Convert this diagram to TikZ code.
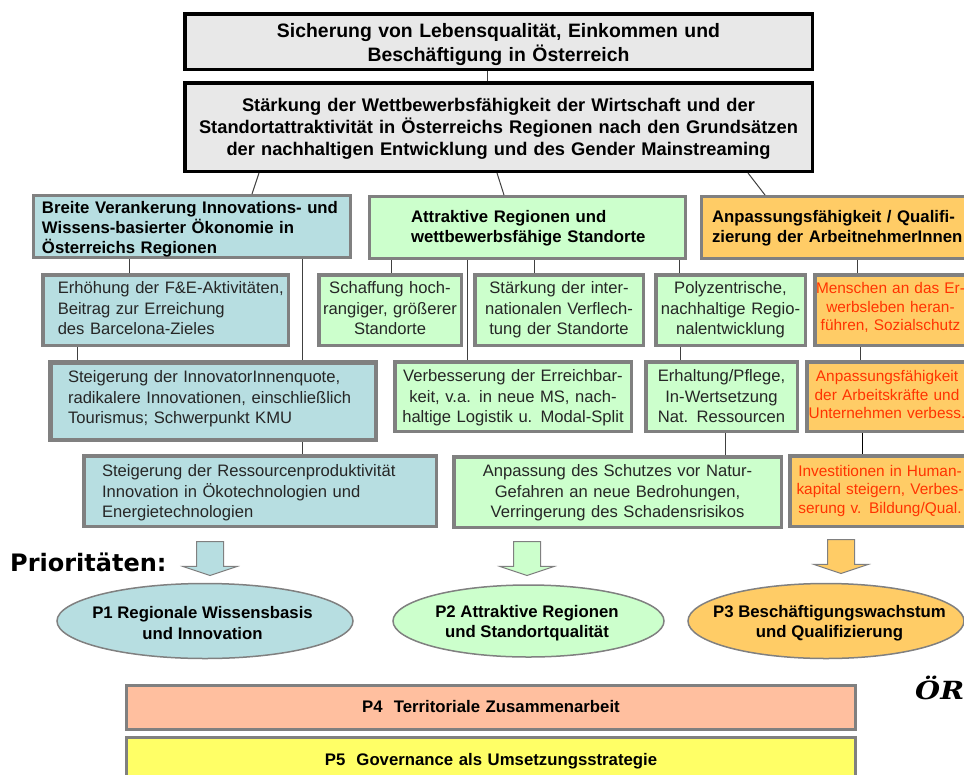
\documentclass[tikz,border=0pt]{standalone}
\usepackage{fontspec}
\setmainfont{Liberation Sans}
\newfontfamily\heavyfont{DejaVu Sans}
\newfontfamily\logofont[FakeStretch=1.15]{DejaVu Serif}
\usetikzlibrary{positioning,shapes.geometric,shapes.arrows}
\definecolor{bluefill}{HTML}{B7DEE1}
\definecolor{greenfill}{HTML}{CCFFCC}
\definecolor{orangefill}{HTML}{FFCC66}
\definecolor{redtext}{HTML}{FF3300}
\definecolor{peachfill}{HTML}{FFBF9F}
\definecolor{yellowfill}{HTML}{FFFF66}
\definecolor{topfill}{HTML}{E8E8E8}
\definecolor{boxline}{HTML}{808080}
\definecolor{linkline}{HTML}{404040}
\def\padtopval{0pt}
\def\padbotval{0pt}
\tikzset{
    bodyfont/.style={font=\fontsize{16.6}{20.5}\selectfont, text=black!85},
    boldfont/.style={font=\fontsize{16.75}{20.5}\selectfont\bfseries},
    redfont/.style={font=\fontsize{15.4}{18.5}\selectfont, text=redtext},
    inset/.style={align=left, execute at begin node={\leftskip=#1pt\relax}},
    padtop/.code={\def\padtopval{#1pt}},
    padbot/.code={\def\padbotval{#1pt}},
    box/.style={draw=boxline, line width=3pt, anchor=north west, inner ysep=0pt, inner xsep=0pt,
        execute at begin node={\leavevmode\vrule width0pt height\dimexpr.7\baselineskip+\padtopval\relax depth0pt\relax},
        execute at end node={\vrule width0pt height0pt depth\dimexpr.3\baselineskip+\padbotval\relax\relax}},
    topbox/.style={box, draw=black, fill=topfill, align=center, line width=3.5pt},
    headbox/.style={box, boldfont, minimum height=62pt},
    subbox/.style={box, bodyfont, line width=3.5pt, minimum height=70.5pt},
    redbox/.style={box, redfont, fill=orangefill, align=center, line width=3.5pt, minimum height=70.5pt},
    prio/.style={ellipse, draw=boxline, line width=1.5pt, inner sep=0pt},
    priotext/.style={boldfont, align=center, yshift=-2pt},
    parrow/.style={single arrow, draw=boxline, line width=1pt, shape border rotate=270, single arrow head extend=13.5pt,
        single arrow tip angle=143, single arrow head indent=0pt, inner sep=13pt, minimum height=34pt, anchor=north},
    bar/.style={box, boldfont, align=center, text width=729pt, minimum height=44pt},
    link/.style={draw=linkline, line width=1pt},
}
\begin{document}
\begin{tikzpicture}[x=1pt,y=-1pt]
        \clip (0,0) rectangle (964,774);
        % top
        \node [topbox, text width=627.5pt, minimum height=55.5pt, padtop=7, font=\fontsize{19.4}{24}\selectfont\bfseries] (goal) at (183,12) {Sicherung von Lebensqualität, Einkommen und\\Beschäftigung in Österreich};
        \node [topbox, text width=627.5pt, minimum height=88.5pt, padtop=4, font=\fontsize{18.3}{22}\selectfont\bfseries] (aim) at (183,81) {Stärkung der Wettbewerbsfähigkeit der Wirtschaft und der\\Standortattraktivität in Österreichs Regionen nach den Grundsätzen\\der nachhaltigen Entwicklung und des Gender Mainstreaming};
        % row one
        \node [headbox, fill=bluefill, text width=317pt, inset=8.5, padtop=3, padbot=-3, font=\fontsize{16.75}{20}\selectfont\bfseries] (b1) at (32,194) {Breite Verankerung Innovations- und\\Wissens-basierter Ökonomie in\\Österreichs Regionen};
        \node [headbox, fill=greenfill, text width=316pt, inset=41.5, padtop=2] (c1) at (368,195) {Attraktive Regionen und\\wettbewerbsfähige Standorte};
        \node [headbox, fill=orangefill, text width=280pt, inset=10.5, padtop=2] (d1) at (700,195) {Anpassungsfähigkeit / Qualifi-\\zierung der ArbeitnehmerInnen};
        % row two
        \node [subbox, fill=bluefill, text width=245.5pt, inset=15] (b2) at (41,273) {Erhöhung der F\&E-Aktivitäten,\\Beitrag zur Erreichung\\des Barcelona-Zieles};
        \node [subbox, fill=greenfill, text width=142.5pt, align=center] (c2a) at (317,273) {Schaffung hoch-\\rangiger, größerer\\Standorte};
        \node [subbox, fill=greenfill, text width=168.5pt, align=center] (c2b) at (473,273) {Stärkung der inter-\\nationalen Verflech-\\tung der Standorte};
        \node [subbox, fill=greenfill, text width=149.5pt, align=center] (c2c) at (654,273) {Polyzentrische,\\nachhaltige Regio-\\nalentwicklung};
        \node [redbox, text width=151.5pt, padbot=3] (d2) at (813,273) {Menschen an das Er-\\werbsleben heran-\\führen, Sozialschutz};
        % row three
        \node [subbox, fill=bluefill, line width=4.5pt, text width=325.5pt, minimum height=77.5pt, inset=17.75, padbot=4] (b3) at (48,360) {Steigerung der InnovatorInnenquote,\\radikalere Innovationen, einschließlich\\Tourismus; Schwerpunkt KMU};
        \node [subbox, fill=greenfill, text width=236.5pt, minimum height=69.5pt, align=center, padtop=3] (c3a) at (393,360) {Verbesserung der Erreichbar-\\keit, v.a. in neue MS, nach-\\haltige Logistik u. Modal-Split};
        \node [subbox, fill=greenfill, text width=151.5pt, minimum height=69.5pt, align=center, padtop=3] (c3b) at (644,360) {Erhaltung/Pflege,\\In-Wertsetzung\\Nat. Ressourcen};
        \node [redbox, text width=160.5pt, minimum height=69.5pt] (d3) at (805,360) {Anpassungsfähigkeit\\der Arbeitskräfte und\\Unternehmen verbess.};
        % row four
        \node [subbox, fill=bluefill, text width=352.5pt, inset=18.25, padtop=4] (b4) at (82,454) {Steigerung der Ressourcenproduktivität\\Innovation in Ökotechnologien und\\Energietechnologien};
        \node [subbox, fill=greenfill, text width=327.5pt, align=center, padtop=2] (c4) at (452,455) {Anpassung des Schutzes vor Natur-\\Gefahren an neue Bedrohungen,\\Verringerung des Schadensrisikos};
        \node [redbox, text width=180.5pt] (d4) at (788,454) {Investitionen in Human-\\kapital steigern, Verbes-\\serung v. Bildung/Qual.};
        % links
        \draw [link] (487,0 |- goal.south) -- (487,0 |- aim.north);
        \draw [link] (259,0 |- aim.south) -- (252,0 |- b1.north);
        \draw [link] (497,0 |- aim.south) -- (504,0 |- c1.north);
        \draw [link] (748,0 |- aim.south) -- (765,0 |- d1.north);
        \draw [link] (129,0 |- b1.south) -- (129,0 |- b2.north);
        \draw [link] (302,0 |- b1.south) -- (302,0 |- b3.north);
        \draw [link] (77.5,0 |- b2.south) -- (77.5,0 |- b3.north);
        \draw [link] (302,0 |- b3.south) -- (302,0 |- b4.north);
        \draw [link] (391,0 |- c1.south) -- (391,0 |- c2a.north);
        \draw [link] (467.5,0 |- c1.south) -- (467.5,0 |- c3a.north);
        \draw [link] (534,0 |- c1.south) -- (534,0 |- c2b.north);
        \draw [link] (679,0 |- c1.south) -- (679,0 |- c2c.north);
        \draw [link] (680,0 |- c2c.south) -- (680,0 |- c3b.north);
        \draw [link] (725,0 |- c3b.south) -- (725,0 |- c4.north);
        \draw [link] (857,0 |- d1.south) -- (857,0 |- d2.north);
        \draw [link] (860,0 |- d2.south) -- (860,0 |- d3.north);
        \draw [link, draw=black] (862,0 |- d3.south) -- (862,0 |- d4.north);
        % priorities
        \node [anchor=west, inner sep=0pt, font=\heavyfont\fontsize{24}{28}\selectfont\bfseries] (prioritaeten) at (10,562) {Prioritäten:};
        \node [parrow, fill=bluefill] (a1) at (210,541) {};
        \node [parrow, fill=greenfill] (a2) at (527,541) {};
        \node [parrow, fill=orangefill] (a3) at (841,539) {};
        \node [prio, fill=bluefill, minimum width=296pt, minimum height=75pt, label={[priotext, xshift=-2.5pt]center:P1 Regionale Wissensbasis\\und Innovation}] (p1) at (205,621) {};
        \node [prio, fill=greenfill, minimum width=271pt, minimum height=72pt, label={[priotext, xshift=-1.5pt]center:P2 Attraktive Regionen\\und Standortqualität}] (p2) at (528.5,621) {};
        \node [prio, fill=orangefill, minimum width=276pt, minimum height=75pt, label={[priotext, xshift=3.5pt]center:P3 Beschäftigungswachstum\\und Qualifizierung}] (p3) at (826,621) {};
        \node [bar, fill=peachfill, padtop=1] (p4) at (125,684) {P4\ \ Territoriale Zusammenarbeit};
        \node [bar, fill=yellowfill, padtop=3] (p5) at (125,736) {P5\ \ Governance als Umsetzungsstrategie};
        % logo
        \node [anchor=west, inner sep=0pt, font=\logofont\fontsize{25}{30}\selectfont\bfseries\itshape] (logo) at (915,688) {ÖR};
\end{tikzpicture}
\end{document}
